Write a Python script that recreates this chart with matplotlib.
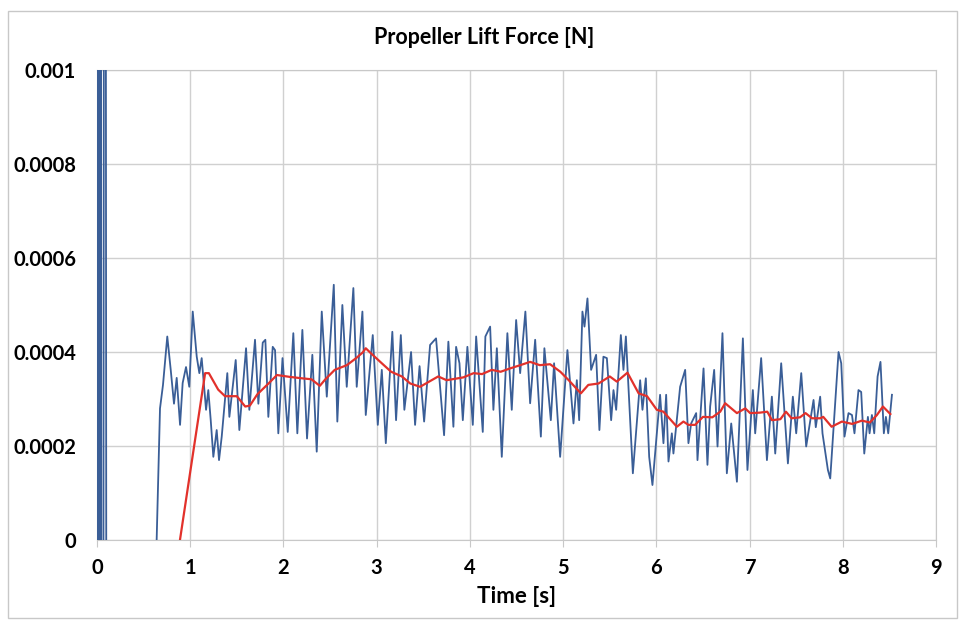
import matplotlib.pyplot as plt
from matplotlib.patches import Rectangle

# Raw lift force signal (blue)
time_raw = [0.0, 0.01, 0.02, 0.04, 0.05, 0.085, 0.1, 0.63, 0.64,
            0.676, 0.708, 0.754, 0.791, 0.826, 0.855, 0.891, 0.919, 0.955, 0.990,
            1.027, 1.070, 1.098, 1.123, 1.170, 1.194, 1.220, 1.248, 1.284, 1.309,
            1.338, 1.398, 1.420, 1.488, 1.527, 1.599, 1.634, 1.695, 1.731, 1.778,
            1.806, 1.838, 1.885, 1.910, 1.945, 1.990, 2.046, 2.106, 2.149, 2.203,
            2.253, 2.310, 2.357, 2.411, 2.465, 2.540, 2.578, 2.632, 2.679, 2.750,
            2.786, 2.847, 2.883, 2.958, 3.012, 3.055, 3.098, 3.168, 3.208, 3.259,
            3.297, 3.369, 3.412, 3.460, 3.509, 3.573, 3.637, 3.723, 3.769, 3.823,
            3.852, 3.888, 3.924, 3.973, 4.031, 4.067, 4.138, 4.166, 4.217, 4.252,
            4.289, 4.342, 4.402, 4.449, 4.496, 4.539, 4.595, 4.646, 4.700, 4.761,
            4.799, 4.868, 4.903, 4.968, 5.046, 5.111, 5.147, 5.172, 5.207, 5.229,
            5.261, 5.300, 5.354, 5.389, 5.432, 5.469, 5.515, 5.540, 5.569, 5.619,
            5.647, 5.673, 5.748, 5.826, 5.851, 5.887, 5.923, 5.958, 6.040, 6.076,
            6.105, 6.130, 6.166, 6.183, 6.255, 6.309, 6.344, 6.373, 6.427, 6.441,
            6.506, 6.548, 6.577, 6.620, 6.656, 6.709, 6.756, 6.803, 6.864, 6.928,
            6.977, 7.035, 7.060, 7.124, 7.186, 7.239, 7.275, 7.339, 7.411, 7.464,
            7.500, 7.554, 7.607, 7.686, 7.710, 7.757, 7.782, 7.840, 7.865, 7.954,
            7.983, 8.018, 8.061, 8.098, 8.125, 8.168, 8.197, 8.230, 8.269, 8.287,
            8.312, 8.337, 8.373, 8.404, 8.440, 8.462, 8.487, 8.527]
force_raw = [0.0, 0.005, -0.005, 0.005, -0.005, 0.004, -0.0002, -0.0002, 0.0,
             0.00028, 0.00033, 0.000433, 0.000362, 0.00029, 0.000345, 0.000245, 0.000334, 0.000368, 0.000326,
             0.000486, 0.00039, 0.000355, 0.000387, 0.000277, 0.000319, 0.000255, 0.000177, 0.000234, 0.00017,
             0.00022, 0.000355, 0.000262, 0.000383, 0.000234, 0.000408, 0.000277, 0.000426, 0.00029, 0.00042,
             0.000426, 0.000262, 0.000411, 0.000404, 0.000227, 0.000387, 0.00023, 0.00044, 0.000227, 0.000447,
             0.000216, 0.000394, 0.000188, 0.000486, 0.000305, 0.000543, 0.000252, 0.0005, 0.000326, 0.000536,
             0.000326, 0.000486, 0.000266, 0.000436, 0.000245, 0.000362, 0.000206, 0.000443, 0.000255, 0.000436,
             0.000277, 0.0004, 0.000245, 0.00037, 0.000252, 0.000415, 0.000429, 0.000223, 0.000422, 0.000241,
             0.000411, 0.000376, 0.000255, 0.000411, 0.000245, 0.000433, 0.00023, 0.000433, 0.000454, 0.000277,
             0.000408, 0.000177, 0.00044, 0.000277, 0.000468, 0.000355, 0.000486, 0.000291, 0.000426, 0.00022,
             0.000408, 0.000255, 0.000376, 0.000177, 0.000404, 0.000248, 0.00034, 0.000255, 0.000486, 0.000454,
             0.000514, 0.000362, 0.000394, 0.000234, 0.00039, 0.000387, 0.000255, 0.000319, 0.000277, 0.000436,
             0.000362, 0.000433, 0.000142, 0.00034, 0.000277, 0.000344, 0.000177, 0.000117, 0.000309, 0.000206,
             0.000309, 0.000167, 0.000227, 0.000184, 0.000326, 0.000362, 0.000206, 0.000248, 0.00027, 0.00017,
             0.000365, 0.00016, 0.000284, 0.000362, 0.000199, 0.00044, 0.000142, 0.000248, 0.000124, 0.000429,
             0.000149, 0.000319, 0.000227, 0.000387, 0.00017, 0.000305, 0.000184, 0.000376, 0.000163, 0.000305,
             0.000227, 0.000355, 0.000199, 0.000298, 0.00024, 0.000305, 0.000227, 0.000149, 0.000131, 0.0004,
             0.000376, 0.00022, 0.00027, 0.000266, 0.000227, 0.000319, 0.000315, 0.000184, 0.000262, 0.000227,
             0.000266, 0.000227, 0.000348, 0.000379, 0.000227, 0.000262, 0.000227, 0.000309]

# Smoothed trend (red)
time_avg = [0.89, 1.16, 1.20, 1.30, 1.373, 1.50, 1.59, 1.64, 1.72, 1.84, 1.93, 2.07,
            2.20, 2.30, 2.39, 2.45, 2.55, 2.68, 2.78, 2.85, 2.883, 2.94, 3.055, 3.155,
            3.27, 3.36, 3.466, 3.66, 3.75, 3.93, 4.04, 4.13, 4.235, 4.33, 4.43, 4.54,
            4.646, 4.75, 4.86, 4.97, 5.06, 5.19, 5.27, 5.38, 5.50, 5.576, 5.69, 5.81,
            5.90, 6.005, 6.076, 6.22, 6.29, 6.344, 6.416, 6.50, 6.60, 6.685, 6.738,
            6.864, 6.953, 7.006, 7.11, 7.19, 7.24, 7.33, 7.39, 7.45, 7.54, 7.60, 7.67,
            7.757, 7.79, 7.88, 7.99, 8.10, 8.205, 8.29, 8.366, 8.43, 8.51]
force_avg = [0.0, 0.000355, 0.000355, 0.00032, 0.000306, 0.000306, 0.000284, 0.000286,
             0.00031, 0.000333, 0.000351, 0.000347, 0.000344, 0.000342, 0.000328, 0.000342,
             0.000362, 0.000372, 0.000387, 0.000399, 0.000408, 0.000397, 0.000376, 0.000358,
             0.000348, 0.000333, 0.000326, 0.000348, 0.00034, 0.000346, 0.000355, 0.000353,
             0.000362, 0.000358, 0.000365, 0.000372, 0.000379, 0.000372, 0.000374, 0.000358,
             0.00034, 0.000312, 0.00033, 0.000333, 0.000348, 0.000337, 0.000356, 0.000312,
             0.000306, 0.000277, 0.000273, 0.000241, 0.000252, 0.000245, 0.000245, 0.000262,
             0.000261, 0.000273, 0.000291, 0.00027, 0.00028, 0.00027, 0.000271, 0.000273,
             0.000255, 0.000257, 0.000273, 0.000259, 0.000261, 0.00027, 0.000259, 0.000259,
             0.000262, 0.000241, 0.000252, 0.000247, 0.000254, 0.00025, 0.000266, 0.000284,
             0.000268]

x_ticks = [0, 1, 2, 3, 4, 5, 6, 7, 8, 9]
y_ticks = [0, 0.0002, 0.0004, 0.0006, 0.0008, 0.001]
y_labels = ['0', '0.0002', '0.0004', '0.0006', '0.0008', '0.001']

plt.rcParams['font.family'] = ['Lato', 'DejaVu Sans']

fig = plt.figure(figsize=(9.65, 6.22), dpi=100)
ax = fig.add_axes([0.1005, 0.1318, 0.8695, 0.7557])

ax.plot(time_raw, force_raw, color='#3a5e97', linewidth=1.3, zorder=3)
ax.plot(time_avg, force_avg, color='#e2312b', linewidth=1.6, zorder=4)

ax.set_xlim(0, 9)
ax.set_ylim(0, 0.001)
ax.set_xticks(x_ticks)
ax.set_yticks(y_ticks)
ax.set_yticklabels(y_labels)
ax.grid(True, color='#d0d0d0', linewidth=1.0)
ax.set_axisbelow(True)
for s in ax.spines.values():
    s.set_color('#c8c8c8')
ax.tick_params(axis='x', length=5, color='#c8c8c8', labelsize=14.5, pad=8)
ax.tick_params(axis='y', length=0, labelsize=14.5, pad=15)
for lbl in ax.get_xticklabels() + ax.get_yticklabels():
    lbl.set_fontweight('bold')

fig.text(0.502, 0.940, 'Propeller Lift Force [N]', fontsize=15.5, fontweight='bold',
         ha='center', va='center')
ax.set_xlabel('Time [s]', fontsize=16, fontweight='bold', labelpad=6)

fig.patches.append(Rectangle((0.008, 0.006), 0.984, 0.976, transform=fig.transFigure,
                             fill=False, edgecolor='#c8c8c8', linewidth=1.0))

fig.savefig('out.png', dpi=100)
